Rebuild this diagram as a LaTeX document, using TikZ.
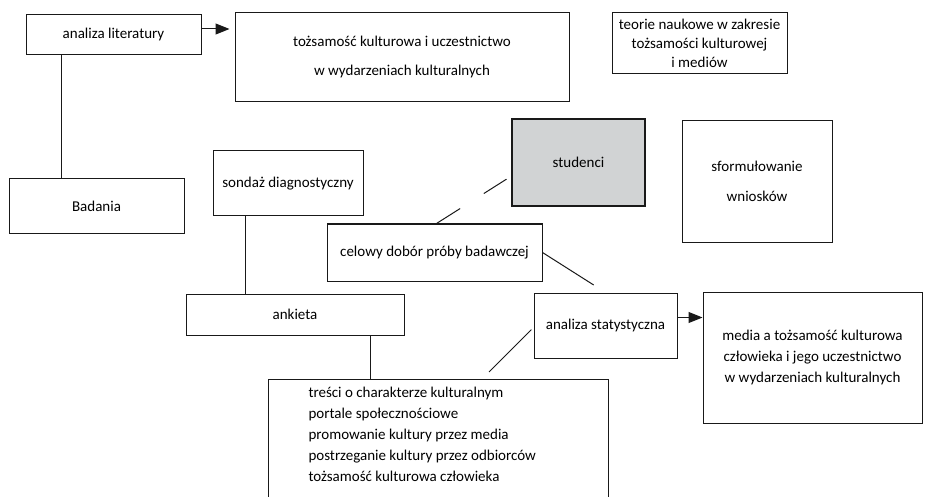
\documentclass[tikz,border=0pt]{standalone}
\usepackage{fontspec}
\setmainfont{Carlito}
\usepackage{tikz}
\usetikzlibrary{
  arrows.meta,
  positioning,
  calc
}
\definecolor{FrameBlack}{RGB}{25,25,25}
\definecolor{FocusGray}{RGB}{209,211,212}
\tikzset{
  plainbox/.style={draw=FrameBlack,line width=1pt,fill=white,align=center,inner sep=0pt,font=\fontsize{15pt}{19pt}\selectfont},
  focusbox/.style={plainbox,line width=2.6pt,fill=FocusGray},
  listbox/.style={draw=FrameBlack,line width=1pt,fill=white,align=flush left,inner xsep=40pt,inner ysep=4pt,text width=260pt,text height=14pt,text depth=125pt,font=\fontsize{15pt}{21pt}\selectfont},
  plainline/.style={draw=FrameBlack,line width=1pt},
  gapline/.style={plainline,dash pattern=on 28pt off 28pt},
  flowarrow/.style={-{Triangle[length=14pt,width=11pt]},draw=FrameBlack,line width=1pt}
}
\begin{document}
\begin{tikzpicture}[x=1pt,y=-1pt]
\useasboundingbox (0,0) rectangle (926,497);
\clip (0,0) rectangle (926,497);

% top row
\node[plainbox, minimum width=175pt, minimum height=40pt] (lit) at (113.5,35) {analiza literatury};
\node[plainbox, minimum width=334pt, minimum height=89pt] (tozs) at (402,57.5) {tożsamość kulturowa i uczestnictwo\\[10pt]w wydarzeniach kulturalnych};
\node[plainbox, minimum width=175pt, minimum height=61pt] (teorie) at (699.5,43.5) {teorie naukowe w zakresie\\tożsamości kulturowej\\i mediów};

% middle
\node[plainbox, minimum width=175pt, minimum height=54pt] (bad) at (96.5,206) {Badania};
\node[plainbox, minimum width=150pt, minimum height=65pt] (sond) at (288,183.5) {sondaż diagnostyczny};
\node[focusbox, minimum width=133pt, minimum height=87pt] (stud) at (578.5,162.5) {studenci};
\node[plainbox, minimum width=150pt, minimum height=121pt] (wnio) at (757,181.5) {sformułowanie\\[11pt]wniosków};
\node[plainbox, minimum width=215pt, minimum height=57pt] (cel) at (434.5,252.5) {celowy dobór próby badawczej};

% bottom
\node[plainbox, minimum width=218pt, minimum height=41pt] (ank) at (295,314.5) {ankieta};
\node[plainbox, minimum width=143pt, minimum height=65pt] (stat) at (605.5,325.5) {analiza statystyczna};
\node[plainbox, minimum width=219pt, minimum height=131pt, font=\fontsize{15pt}{21pt}\selectfont] (media) at (812.5,357.5) {media a tożsamość kulturowa\\człowieka i jego uczestnictwo\\w wydarzeniach kulturalnych};
\node[listbox, anchor=north west] (tresc) at (268,379) {treści o charakterze kulturalnym\\portale społecznościowe\\promowanie kultury przez media\\postrzeganie kultury przez odbiorców\\tożsamość kulturowa człowieka};

% connectors
\draw[flowarrow, shorten >=5pt] ([yshift=6pt]lit.east) -- ([yshift=6pt]lit.east -| tozs.west);
\draw[plainline] ([xshift=36pt]lit.south west) -- ([xshift=36pt]lit.south west |- bad.north);
\draw[plainline] ([xshift=33pt]sond.south west) -- ([xshift=33pt]sond.south west |- ank.north);
\draw[plainline] ([xshift=-34pt]ank.south east) -- ([xshift=-34pt]ank.south east |- tresc.north);
\draw[gapline, shorten >=5pt] ([xshift=110pt]cel.north west) -- ([yshift=-14pt]stud.west);
\draw[plainline, shorten >=14pt] (cel.east) -- (stat.north);
\draw[plainline, shorten <=3pt, shorten >=10pt] ([yshift=-2pt]stat.west) -- ([xshift=214pt]tresc.north west);
\draw[flowarrow] ([yshift=8pt]stat.east) -- ([yshift=8pt]stat.east -| media.west);
\end{tikzpicture}
\end{document}
